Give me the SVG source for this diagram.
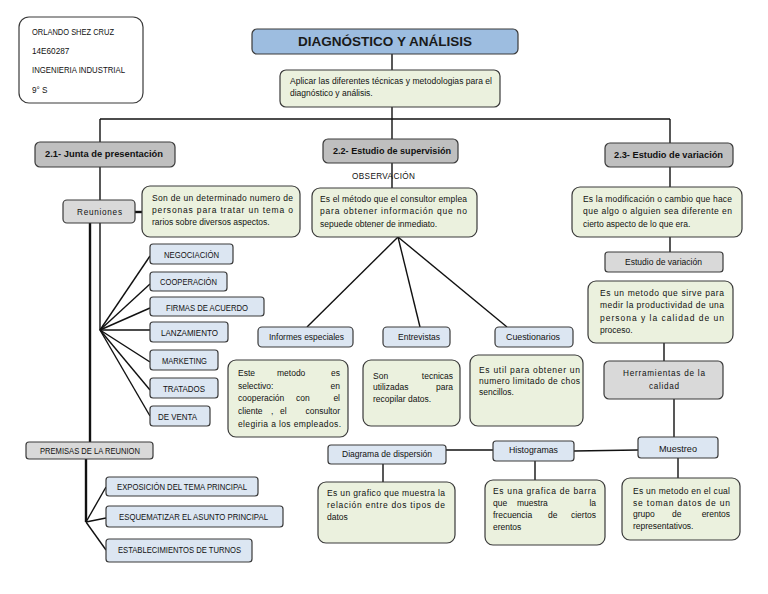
<svg xmlns="http://www.w3.org/2000/svg" width="768" height="594" viewBox="0 0 768 594">
<style>
.n rect{stroke:#3a3a3a;stroke-width:1.2}
.w{fill:#ffffff}
.gr{fill:#ebf1de}
.h{fill:#bfbfbf}
.lg{fill:#d9d9d9}
.bl{fill:#dce6f2}
.tt{fill:#9dbde0}
text{font-family:"Liberation Sans",Arial,sans-serif;font-size:8.5px;fill:#111}
.lb{font-size:8.2px}
.hb{font-weight:bold;font-size:8.5px}
.ti{font-weight:bold;font-size:13px;fill:#1a1a1a}
.e{text-anchor:end}
.c line{stroke:#111;stroke-width:1.4;fill:none}
.c .k{stroke-width:2.4}
</style>
<g class="c" id="connectors">
<line x1="392" y1="54" x2="392" y2="70"/>
<line x1="392" y1="107" x2="392" y2="119"/>
<line x1="100" y1="119" x2="670" y2="119"/>
<line x1="100" y1="119" x2="100" y2="142"/>
<line x1="392" y1="119" x2="392" y2="139"/>
<line x1="670" y1="119" x2="670" y2="143"/>
<line x1="100" y1="167" x2="100" y2="200"/>
<line x1="392" y1="163" x2="392" y2="188"/>
<line x1="670" y1="167" x2="670" y2="187"/>
<line x1="670" y1="237" x2="670" y2="252"/>
<line class="k" x1="135" y1="212" x2="142" y2="212"/>
<line x1="100" y1="223" x2="100" y2="330"/>
<line class="k" x1="90" y1="223" x2="90" y2="442"/>
<line x1="100" y1="330" x2="150" y2="256"/>
<line x1="100" y1="330" x2="150" y2="284"/>
<line x1="100" y1="330" x2="150" y2="308"/>
<line x1="100" y1="330" x2="150" y2="330"/>
<line x1="100" y1="330" x2="150" y2="362"/>
<line x1="100" y1="330" x2="150" y2="390"/>
<line x1="100" y1="330" x2="150" y2="416"/>
<line class="k" x1="86" y1="459" x2="86" y2="522"/>
<line x1="86" y1="522" x2="106" y2="487"/>
<line x1="86" y1="522" x2="106" y2="518"/>
<line x1="86" y1="522" x2="106" y2="550"/>
<line x1="398" y1="237" x2="307" y2="327"/>
<line x1="398" y1="237" x2="420" y2="327"/>
<line x1="398" y1="237" x2="507" y2="327"/>
<line x1="664" y1="343" x2="664" y2="361"/>
<line x1="674" y1="399" x2="674" y2="437"/>
<line x1="678" y1="458" x2="678" y2="478"/>
<line x1="446" y1="450" x2="493" y2="450"/>
<line x1="574" y1="451" x2="638" y2="450"/>
<line x1="383" y1="464" x2="383" y2="482"/>
<line x1="535" y1="461" x2="535" y2="480"/>
</g>
<g class="n">
<g id="autor">
<rect class="w" x="19" y="17" width="124" height="86" rx="10"/>
<text class="lb" x="32" y="35" textLength="82" lengthAdjust="spacingAndGlyphs">ORLANDO SHEZ CRUZ</text>
<text class="lb" x="32" y="54">14E60287</text>
<text class="lb" x="32" y="73" textLength="93" lengthAdjust="spacingAndGlyphs">INGENIERIA INDUSTRIAL</text>
<text class="lb" x="32" y="93">9° S</text>
</g>
<g id="titulo">
<rect class="tt" x="252" y="29" width="266" height="25" rx="5"/>
<text class="ti" x="298" y="46" textLength="174" lengthAdjust="spacingAndGlyphs">DIAGNÓSTICO Y ANÁLISIS</text>
</g>
<g id="objetivo">
<rect class="gr" x="280" y="70" width="220" height="37" rx="6"/>
<text x="290" y="84" textLength="202" lengthAdjust="spacing">Aplicar las diferentes técnicas y metodologias para el</text>
<text x="290" y="96">diagnóstico y análisis.</text>
</g>
<g id="h21">
<rect class="h" x="35" y="142" width="140" height="25" rx="5"/>
<text class="hb" x="45" y="157" textLength="118" lengthAdjust="spacingAndGlyphs">2.1- Junta de presentación</text>
</g>
<g id="h22">
<rect class="h" x="323" y="139" width="135" height="24" rx="5"/>
<text class="hb" x="333" y="154" textLength="118" lengthAdjust="spacingAndGlyphs">2.2- Estudio de supervisión</text>
</g>
<g id="h23">
<rect class="h" x="605" y="143" width="128" height="24" rx="5"/>
<text class="hb" x="614" y="158" textLength="109" lengthAdjust="spacingAndGlyphs">2.3- Estudio de variación</text>
</g>
<g id="reuniones">
<rect class="lg" x="63" y="200" width="72" height="23" rx="4"/>
<text class="lb" x="77" y="215" textLength="45" lengthAdjust="spacing">Reuniones</text>
</g>
<g id="reuniones-def">
<rect class="gr" x="142" y="186" width="158" height="51" rx="8"/>
<text x="152" y="201" textLength="141" lengthAdjust="spacing">Son de un determinado numero de</text>
<text x="152" y="213" textLength="141" lengthAdjust="spacing">personas para tratar un tema o</text>
<text x="152" y="225">rarios sobre diversos aspectos.</text>
</g>
<g id="negociacion"><rect class="bl" x="150" y="244" width="83" height="20" rx="3"/><text x="164" y="258" textLength="55" lengthAdjust="spacingAndGlyphs">NEGOCIACIÓN</text></g>
<g id="cooperacion"><rect class="bl" x="150" y="272" width="77" height="19" rx="3"/><text x="160" y="285" textLength="57" lengthAdjust="spacingAndGlyphs">COOPERACIÓN</text></g>
<g id="firmas"><rect class="bl" x="150" y="297" width="114" height="19" rx="3"/><text x="166" y="311" textLength="82" lengthAdjust="spacingAndGlyphs">FIRMAS DE ACUERDO</text></g>
<g id="lanzamiento"><rect class="bl" x="150" y="322" width="78" height="20" rx="3"/><text x="161" y="336" textLength="57" lengthAdjust="spacingAndGlyphs">LANZAMIENTO</text></g>
<g id="marketing"><rect class="bl" x="150" y="350" width="68" height="20" rx="3"/><text x="162" y="364" textLength="45" lengthAdjust="spacingAndGlyphs">MARKETING</text></g>
<g id="tratados"><rect class="bl" x="150" y="378" width="68" height="20" rx="3"/><text x="163" y="392" textLength="42" lengthAdjust="spacingAndGlyphs">TRATADOS</text></g>
<g id="deventa"><rect class="bl" x="150" y="406" width="60" height="20" rx="3"/><text x="158" y="420" textLength="39" lengthAdjust="spacingAndGlyphs">DE VENTA</text></g>
<g id="premisas">
<rect class="lg" x="26" y="442" width="127" height="17" rx="3"/>
<text class="lb" x="40" y="454" textLength="100" lengthAdjust="spacingAndGlyphs">PREMISAS DE LA REUNION</text>
</g>
<g id="exposicion"><rect class="bl" x="106" y="477" width="152" height="19" rx="3"/><text class="lb" x="117" y="490" textLength="130" lengthAdjust="spacingAndGlyphs">EXPOSICIÓN DEL TEMA PRINCIPAL</text></g>
<g id="esquematizar"><rect class="bl" x="106" y="506" width="177" height="21" rx="3"/><text class="lb" x="119" y="520" textLength="149" lengthAdjust="spacingAndGlyphs">ESQUEMATIZAR EL ASUNTO PRINCIPAL</text></g>
<g id="establecimientos"><rect class="bl" x="106" y="539" width="146" height="23" rx="3"/><text class="lb" x="118" y="553" textLength="123" lengthAdjust="spacingAndGlyphs">ESTABLECIMIENTOS DE TURNOS</text></g>
<g id="observacion">
<text class="lb" x="352" y="179" textLength="63" lengthAdjust="spacing">OBSERVACIÓN</text>
</g>
<g id="sup-def">
<rect class="gr" x="312" y="188" width="165" height="49" rx="8"/>
<text x="320" y="202" textLength="147" lengthAdjust="spacing">Es el método que el consultor emplea</text>
<text x="320" y="214" textLength="147" lengthAdjust="spacing">para obtener información que no</text>
<text x="320" y="227">sepuede obtener de inmediato.</text>
</g>
<g id="informes"><rect class="bl" x="258" y="327" width="95" height="20" rx="4"/><text class="lb" x="269" y="340" textLength="75" lengthAdjust="spacingAndGlyphs">Informes especiales</text></g>
<g id="entrevistas"><rect class="bl" x="383" y="327" width="67" height="20" rx="4"/><text class="lb" x="398" y="340" textLength="42" lengthAdjust="spacingAndGlyphs">Entrevistas</text></g>
<g id="cuestionarios"><rect class="bl" x="495" y="327" width="78" height="20" rx="4"/><text class="lb" x="506" y="340" textLength="54" lengthAdjust="spacingAndGlyphs">Cuestionarios</text></g>
<g id="informes-def">
<rect class="gr" x="228" y="360" width="120" height="77" rx="8"/>
<text x="238" y="376">Este</text><text x="277" y="376">metodo</text><text class="e" x="340" y="376">es</text>
<text x="238" y="389">selectivo:</text><text class="e" x="340" y="389">en</text>
<text x="238" y="401">cooperación</text><text x="296" y="401">con</text><text class="e" x="340" y="401">el</text>
<text x="238" y="414">cliente</text><text x="271" y="414">,</text><text x="280" y="414">el</text><text class="e" x="340" y="414">consultor</text>
<text x="238" y="427" textLength="103" lengthAdjust="spacing">elegiria a los empleados.</text>
</g>
<g id="entrevistas-def">
<rect class="gr" x="363" y="360" width="97" height="66" rx="8"/>
<text x="373" y="379">Son</text><text class="e" x="453" y="379">tecnicas</text>
<text x="373" y="390">utilizadas</text><text class="e" x="453" y="390">para</text>
<text x="373" y="402">recopilar datos.</text>
</g>
<g id="cuestionarios-def">
<rect class="gr" x="470" y="355" width="113" height="71" rx="8"/>
<text x="479" y="373" textLength="101" lengthAdjust="spacing">Es util para obtener un</text>
<text x="479" y="384" textLength="101" lengthAdjust="spacing">numero limitado de chos</text>
<text x="479" y="395">sencillos.</text>
</g>
<g id="var-def">
<rect class="gr" x="572" y="187" width="170" height="50" rx="8"/>
<text x="583" y="202" textLength="149" lengthAdjust="spacing">Es la modificación o cambio que hace</text>
<text x="583" y="214" textLength="149" lengthAdjust="spacing">que algo o alguien sea diferente en</text>
<text x="583" y="227">cierto aspecto de lo que era.</text>
</g>
<g id="estudio-variacion">
<rect class="lg" x="605" y="252" width="118" height="20" rx="3"/>
<text class="lb" x="625" y="265" textLength="77" lengthAdjust="spacingAndGlyphs">Estudio de variación</text>
</g>
<g id="estudio-def">
<rect class="gr" x="588" y="281" width="145" height="62" rx="8"/>
<text x="600" y="296" textLength="124" lengthAdjust="spacing">Es un metodo que sirve para</text>
<text x="600" y="308" textLength="124" lengthAdjust="spacing">medir la productividad de una</text>
<text x="600" y="321" textLength="124" lengthAdjust="spacing">persona y la calidad de un</text>
<text x="600" y="333">proceso.</text>
</g>
<g id="herramientas">
<rect class="lg" x="604" y="361" width="119" height="38" rx="5"/>
<text class="lb" x="623" y="376" textLength="82" lengthAdjust="spacing">Herramientas de la</text>
<text class="lb" x="649" y="389" textLength="30" lengthAdjust="spacing">calidad</text>
</g>
<g id="muestreo"><rect class="bl" x="638" y="437" width="80" height="21" rx="3"/><text class="lb" x="659" y="452" textLength="38" lengthAdjust="spacingAndGlyphs">Muestreo</text></g>
<g id="histogramas"><rect class="bl" x="493" y="441" width="81" height="20" rx="3"/><text class="lb" x="509" y="453" textLength="49" lengthAdjust="spacingAndGlyphs">Histogramas</text></g>
<g id="diagrama"><rect class="bl" x="328" y="445" width="118" height="19" rx="3"/><text class="lb" x="342" y="457" textLength="90" lengthAdjust="spacingAndGlyphs">Diagrama de dispersión</text></g>
<g id="diagrama-def">
<rect class="gr" x="318" y="482" width="137" height="61" rx="8"/>
<text x="327" y="496" textLength="118" lengthAdjust="spacing">Es un grafico que muestra la</text>
<text x="327" y="508" textLength="118" lengthAdjust="spacing">relación entre dos tipos de</text>
<text x="327" y="520">datos</text>
</g>
<g id="histogramas-def">
<rect class="gr" x="485" y="480" width="120" height="65" rx="8"/>
<text x="493" y="494" textLength="103" lengthAdjust="spacing">Es una grafica de barra</text>
<text x="493" y="506">que</text><text x="517" y="506">muestra</text><text class="e" x="596" y="506">la</text>
<text x="493" y="518">frecuencia</text><text x="548" y="518">de</text><text class="e" x="596" y="518">ciertos</text>
<text x="493" y="530">erentos</text>
</g>
<g id="muestreo-def">
<rect class="gr" x="622" y="478" width="118" height="62" rx="8"/>
<text x="633" y="494" textLength="97" lengthAdjust="spacing">Es un metodo en el cual</text>
<text x="633" y="506" textLength="97" lengthAdjust="spacing">se toman datos de un</text>
<text x="633" y="517">grupo</text><text x="672" y="517">de</text><text class="e" x="730" y="517">erentos</text>
<text x="633" y="529">representativos.</text>
</g>
</g>
</svg>
